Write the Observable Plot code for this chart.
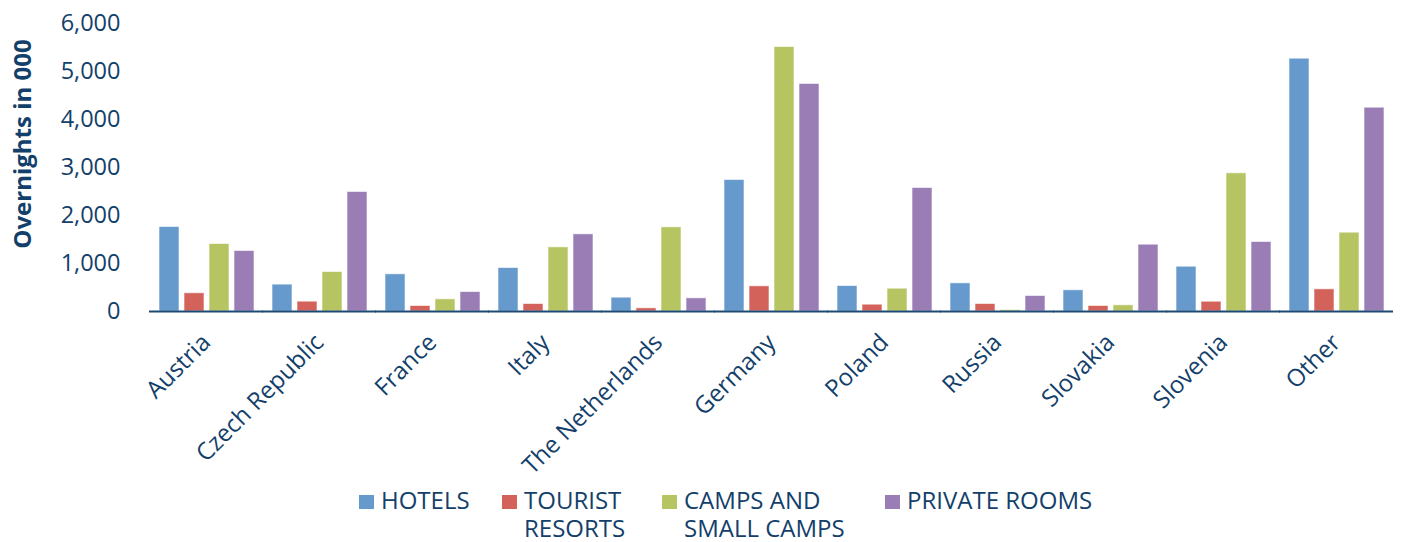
<!DOCTYPE html>
<html>
<head>
<meta charset="utf-8">
<script src="https://cdn.jsdelivr.net/npm/d3@7"></script>
<script src="https://cdn.jsdelivr.net/npm/@observablehq/plot@0.6"></script>
<style>
  html, body { margin: 0; padding: 0; background: #fff; }
  #wrap { position: relative; width: 1402px; height: 542px; font-family: "Open Sans", sans-serif; color: #13406a; }
  #legend { position: absolute; left: 0; top: 486px; width: 1402px; height: 56px; font-size: 24px; }
  .item { position: absolute; top: 0; display: flex; align-items: flex-start; }
  .sw { width: 15px; height: 14px; margin-top: 9px; margin-right: 7px; flex: none; }
  .txt { line-height: 28px; white-space: nowrap; }
</style>
</head>
<body>
<div id="wrap">
  <div id="chart"></div>
  <div id="legend"></div>
</div>
<script>
const countries = ["Austria", "Czech Republic", "France", "Italy", "The Netherlands", "Germany", "Poland", "Russia", "Slovakia", "Slovenia", "Other"];
const types = ["HOTELS", "TOURIST RESORTS", "CAMPS AND SMALL CAMPS", "PRIVATE ROOMS"];
const legendLines = [["HOTELS"], ["TOURIST", "RESORTS"], ["CAMPS AND", "SMALL CAMPS"], ["PRIVATE ROOMS"]];
const hotels  = [1760, 560, 775, 906, 288, 2740, 531, 587, 442, 933, 5267];
const tourist = [380, 205, 115, 156, 67, 525, 142, 156, 115, 204, 462];
const camps   = [1406, 823, 254, 1337, 1754, 5510, 475, 30, 129, 2879, 1642];
const rooms   = [1260, 2490, 406, 1608, 275, 4740, 2573, 323, 1392, 1448, 4246];
const colors = ["#6699cc", "#d2625a", "#b7c462", "#9b7db5"];
const yTicks = [0, 1000, 2000, 3000, 4000, 5000, 6000];
const yLabel = "Overnights in 000";
const legendLeft = [359, 502, 662, 885];

const series = [hotels, tourist, camps, rooms];
const data = countries.flatMap((c, i) => types.map((t, j) => ({country: c, type: t, value: series[j][i]})));

const chart = Plot.plot({
  width: 1402,
  height: 480,
  marginTop: 23,
  marginBottom: 169,
  marginLeft: 147,
  marginRight: 7,
  style: {fontFamily: "'Open Sans', sans-serif", fontSize: "23.5px", color: "#13406a", background: "#fff"},
  fx: {domain: countries, paddingInner: 0.136, paddingOuter: 0.07, label: null},
  x: {domain: types, paddingInner: 0.2, paddingOuter: 0, axis: null},
  y: {domain: [0, 6000], label: null},
  color: {domain: types, range: colors},
  marks: [
    Plot.axisY({ticks: yTicks, tickFormat: d3.format(","), tickSize: 0, tickPadding: 37, label: null, fontSize: 23.5}),
    Plot.axisFx({tickRotate: -45, tickSize: 0, tickPadding: 27, dx: 0, label: null, anchor: "bottom", fontSize: 24}),
    Plot.barY(data, {fx: "country", x: "type", y: "value", fill: "type", stroke: "#ffffff", strokeWidth: 1, strokeOpacity: 0.6}),
    Plot.ruleY([0], {stroke: "#1c4a75", strokeWidth: 2, insetLeft: -8, insetRight: -8})
  ]
});
document.getElementById("chart").appendChild(chart);

d3.select(chart).append("text")
  .attr("transform", "translate(31,144) rotate(-90)")
  .attr("text-anchor", "middle")
  .attr("fill", "#13406a")
  .style("font-family", "'Open Sans', sans-serif")
  .style("font-size", "24px")
  .style("font-weight", "bold")
  .text(yLabel);

const legend = d3.select("#legend");
types.forEach((t, i) => {
  const it = legend.append("div").attr("class", "item").style("left", legendLeft[i] + "px");
  it.append("div").attr("class", "sw").style("background", colors[i]);
  it.append("div").attr("class", "txt").html(legendLines[i].join("<br>"));
});
</script>
</body>
</html>
